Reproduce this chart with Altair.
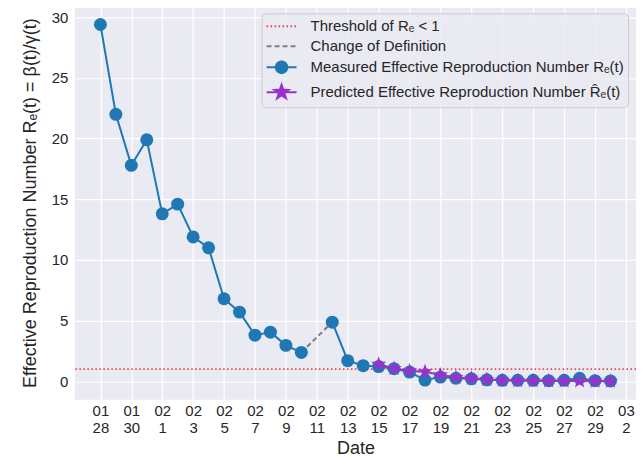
import altair as alt
import pandas as pd
import numpy as np

# ---------------- data ----------------
dates = pd.date_range("2020-01-28", "2020-03-01").strftime("%m-%d").tolist()  # 34 days
measured = [29.4, 22.0, 17.8, 19.9, 13.8, 14.6, 11.9, 11.0, 6.8, 5.7,
            3.8, 4.05, 2.96, 2.38, None, 4.87, 1.70, 1.29, 1.21, 1.04,
            0.76, 0.10, 0.35, 0.25, 0.20, 0.12, 0.08, 0.08, 0.08, 0.05,
            0.08, 0.25, 0.05, 0.03]
pred_start = "02-15"
predicted = [1.40, 1.05, 0.85, 0.78, 0.52, 0.32, 0.25, 0.14, 0.08, 0.05,
             0.04, 0.03, 0.02, 0.02, 0.01, 0.0]
threshold = 1.0

tick_values = list(range(0, 35, 2))
tick_month = ["01", "01"] + ["02"] * 15 + ["03"]
tick_day = ["28", "30", "1", "3", "5", "7", "9", "11", "13", "15", "17",
            "19", "21", "23", "25", "27", "29", "2"]

series_keys = ["Threshold of Rₑ < 1",
               "Change of Definition",
               "Measured Effective Reproduction Number Rₑ(t)",
               "Predicted Effective Reproduction Number R̂ₑ(t)"]

BLUE = "#1f77b4"
PURPLE = "#9932cc"
RED = "#e8474a"
GRAY = "#7f7f7f"
FONT = "Liberation Sans"
TXT = "#262626"

# ---------------- frames ----------------
day = np.arange(len(dates))
df_m = pd.DataFrame({"day": day, "date": dates, "R": measured})
gap = df_m.index[df_m["R"].isna()][0]
df_dash = df_m.loc[[gap - 1, gap + 1]]
p0 = dates.index(pred_start)
df_p = pd.DataFrame({"day": day[p0:p0 + len(predicted)], "R": predicted})
df_thr = pd.DataFrame({"R": [threshold]})
df_leg = pd.DataFrame({"series": series_keys, "day": [-100] * 4, "R": [0] * 4})

xscale = alt.Scale(domain=[-1.65, 34.65], nice=False, zero=False)
yscale = alt.Scale(domain=[-1.52, 30.98], nice=False, zero=False)

label_expr = "[" + ",".join(f"['{m}','{d}']" for m, d in zip(tick_month, tick_day)) + "][datum.value/2]"

xax = alt.Axis(values=tick_values, labelExpr=label_expr, title="Date",
               labelLineHeight=17, labelPadding=4, titlePadding=4, labelAngle=0,
               labelOverlap=False)
yax = alt.Axis(values=[0, 5, 10, 15, 20, 25, 30],
               title="Effective Reproduction Number Rₑ(t) = β(t)/γ(t)",
               labelPadding=7, titlePadding=12)

X = alt.X("day:Q", scale=xscale, axis=xax)
Y = alt.Y("R:Q", scale=yscale, axis=yax)


def star_path(r_out, r_in, cx=0.0, prefix=""):
    ang = np.linspace(-np.pi / 2, 1.5 * np.pi, 11)[:-1]
    rad = np.where(np.arange(10) % 2 == 0, r_out, r_in)
    return prefix + "M" + "L".join(f"{cx + r*np.cos(a):.3f},{r*np.sin(a):.3f}" for r, a in zip(rad, ang)) + "Z"


thr = alt.Chart(df_thr).mark_rule(color=RED, strokeDash=[1.5, 2.5],
                                   strokeWidth=1.6).encode(y=Y)
dash = alt.Chart(df_dash).mark_line(color=GRAY, strokeDash=[5, 3],
                                     strokeWidth=2).encode(x=X, y=Y)
mline = alt.Chart(df_m).mark_line(color=BLUE, strokeWidth=2).encode(x=X, y=Y)
mpts = alt.Chart(df_m).mark_circle(color=BLUE, size=169, opacity=1).encode(x=X, y=Y)
pline = alt.Chart(df_p).mark_line(color=PURPLE, strokeWidth=2).encode(x=X, y=Y)
ppts = alt.Chart(df_p).mark_point(shape=star_path(1.0, 0.4), filled=True, color=PURPLE,
                                  size=256, opacity=1).encode(x=X, y=Y)

# legend symbol paths (unit = 8 px for symbolSize 256)
line_p = "M-1,0H2.75"
cx, r = 0.875, 0.72
circ_p = (line_p + f"M{cx + r},0A{r},{r},0,1,1,{cx - r},0A{r},{r},0,1,1,{cx + r},0")
star_p = star_path(0.94, 0.375, cx=cx, prefix=line_p)

leg_fill = ["transparent", "transparent", BLUE, PURPLE]
leg_stroke = [RED, GRAY, BLUE, PURPLE]
leg_shape = [line_p, line_p, circ_p, star_p]
leg_dash = [[1.5, 2.5], [5, 3], [1, 0], [1, 0]]

legend = alt.Legend(
    title=None, orient="top-right", offset=8, padding=4,
    fillColor="rgba(234,234,242,0.85)", strokeColor="#cccccc", cornerRadius=4,
    labelFont=FONT, labelFontSize=15, labelColor=TXT, labelLimit=0, labelOffset=27,
    symbolSize=256, symbolStrokeWidth=2, symbolOpacity=1, rowPadding=3,
)
leg = alt.Chart(df_leg).mark_point(filled=True, strokeWidth=2, opacity=1, clip=True).encode(
    x=X, y=Y,
    fill=alt.Fill("series:N", scale=alt.Scale(domain=series_keys, range=leg_fill), legend=legend),
    stroke=alt.Stroke("series:N", scale=alt.Scale(domain=series_keys, range=leg_stroke), legend=legend),
    shape=alt.Shape("series:N", scale=alt.Scale(domain=series_keys, range=leg_shape), legend=legend),
    strokeDash=alt.StrokeDash("series:N", scale=alt.Scale(domain=series_keys, range=leg_dash), legend=legend),
)

chart = alt.layer(thr, dash, mline, mpts, pline, ppts, leg).properties(
    width=562, height=395,
    autosize=alt.AutoSizeParams(type="none"),
    padding={"left": 67, "top": -3, "right": 0, "bottom": 57},
).configure_view(fill="#EAEAF2", stroke=None).configure_axis(
    domain=False, ticks=False, tickSize=0, grid=True, gridColor="white", gridWidth=1.2,
    labelFont=FONT, labelFontSize=15, labelColor=TXT,
    titleFont=FONT, titleFontSize=18, titleColor=TXT, titleFontWeight="normal",
)

chart.save("out.html", embed_options={"renderer": "svg", "actions": False})
